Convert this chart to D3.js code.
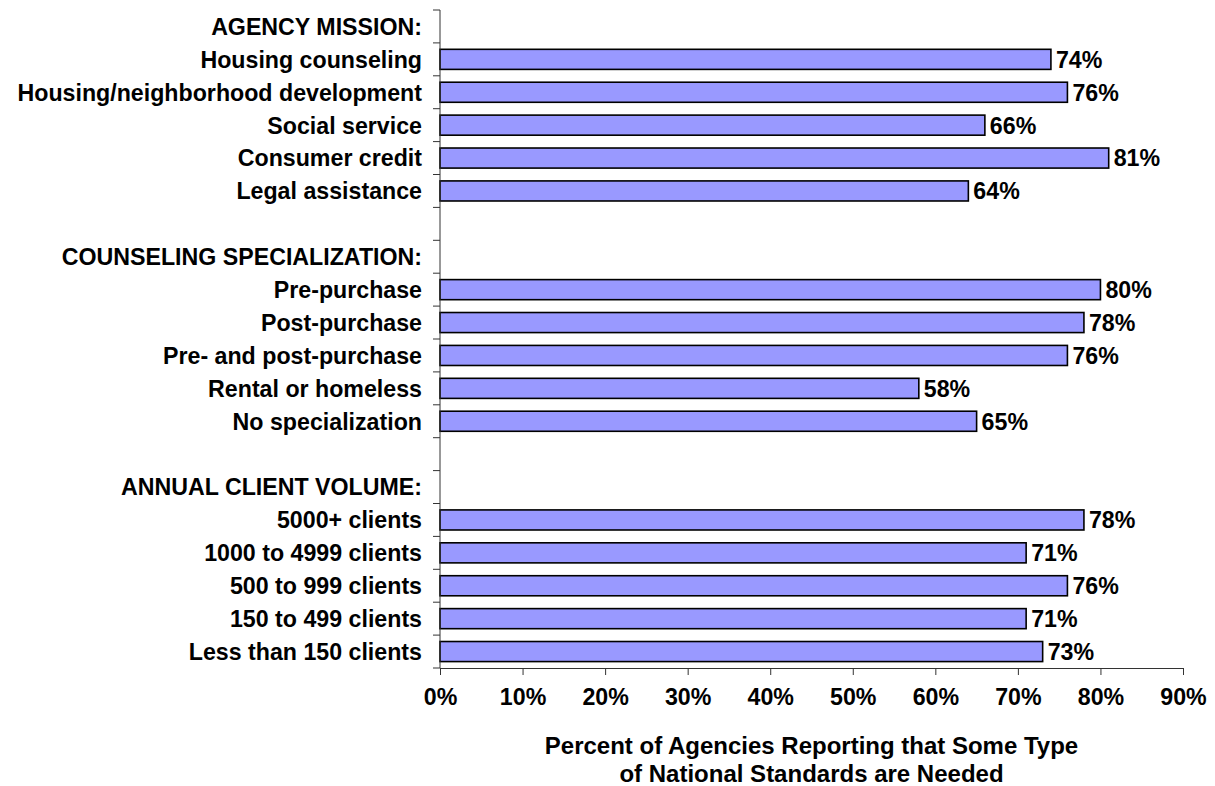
<!DOCTYPE html>
<html>
<head>
<meta charset="utf-8">
<script src="https://cdn.jsdelivr.net/npm/d3@7"></script>
<style>
  html, body { margin: 0; padding: 0; background: #fff; }
  svg text { font-family: "Liberation Sans", Arial, sans-serif; font-weight: bold; fill: #000; }
</style>
</head>
<body>
<svg id="chart" width="1215" height="786"></svg>
<script>
// Row labels, top to bottom; group headings and spacer rows have no value
const categories = [
  "AGENCY MISSION:",
  "Housing counseling",
  "Housing/neighborhood development",
  "Social service",
  "Consumer credit",
  "Legal assistance",
  "",
  "COUNSELING SPECIALIZATION:",
  "Pre-purchase",
  "Post-purchase",
  "Pre- and post-purchase",
  "Rental or homeless",
  "No specialization",
  " ",
  "ANNUAL CLIENT VOLUME:",
  "5000+ clients",
  "1000 to 4999 clients",
  "500 to 999 clients",
  "150 to 499 clients",
  "Less than 150 clients"
];
const values = [
  null, 74, 76, 66, 81, 64,
  null,
  null, 80, 78, 76, 58, 65,
  null,
  null, 78, 71, 76, 71, 73
];
const xTicks = [0, 10, 20, 30, 40, 50, 60, 70, 80, 90];
const xTitle = [
  "Percent of Agencies Reporting that Some Type",
  "of National Standards are Needed"
];

const margin = { top: 10, left: 440, right: 32, bottom: 118 };
const width = 1215, height = 786;
const fontSize = 23.2;
const svg = d3.select("#chart");

const x = d3.scaleLinear()
  .domain([0, 90])
  .range([margin.left, width - margin.right]);

const y = d3.scaleBand()
  .domain(categories.map((c, i) => i))
  .range([margin.top, height - margin.bottom])
  .paddingInner(0.39)
  .paddingOuter(0.195);

const yBand = d3.scaleBand()
  .domain(categories.map((c, i) => i))
  .range([margin.top, height - margin.bottom]);

const rows = categories.map((c, i) => ({ label: c, value: values[i], i }));

// Bars
svg.append("g")
  .selectAll("rect")
  .data(rows.filter(d => d.value !== null))
  .join("rect")
  .attr("x", x(0))
  .attr("y", d => y(d.i))
  .attr("width", d => x(d.value) - x(0))
  .attr("height", y.bandwidth())
  .attr("fill", "#9999ff")
  .attr("stroke", "#000")
  .attr("stroke-width", 1.6);

// Value labels at bar ends
svg.append("g")
  .selectAll("text")
  .data(rows.filter(d => d.value !== null))
  .join("text")
  .attr("x", d => x(d.value) + 5)
  .attr("y", d => y(d.i) + y.bandwidth() / 2)
  .attr("dy", "0.36em")
  .attr("font-size", fontSize)
  .text(d => d.value + "%");

// Y axis: line plus a tick at every band boundary
const yAxis = svg.append("g");
const boundaries = d3.range(categories.length + 1).map(i =>
  i < categories.length ? yBand(i) : yBand(categories.length - 1) + yBand.bandwidth());
yAxis.append("line")
  .attr("x1", x(0)).attr("x2", x(0))
  .attr("y1", boundaries[0]).attr("y2", boundaries[boundaries.length - 1])
  .attr("stroke", "#333").attr("stroke-width", 1);
yAxis.selectAll("line.tick")
  .data(boundaries)
  .join("line")
  .attr("class", "tick")
  .attr("x1", x(0) - 7).attr("x2", x(0))
  .attr("y1", d => d).attr("y2", d => d)
  .attr("stroke", "#333").attr("stroke-width", 1);
yAxis.selectAll("text")
  .data(rows.filter(d => d.label.trim() !== ""))
  .join("text")
  .attr("x", x(0) - 18)
  .attr("y", d => yBand(d.i) + yBand.bandwidth() / 2)
  .attr("dy", "0.36em")
  .attr("text-anchor", "end")
  .attr("font-size", fontSize)
  .text(d => d.label);

// X axis
const axisY = boundaries[boundaries.length - 1];
const xAxis = svg.append("g")
  .attr("transform", `translate(0,${axisY})`)
  .call(d3.axisBottom(x).tickValues(xTicks).tickSize(7).tickSizeOuter(0)
    .tickFormat(d => d + "%"));
xAxis.select(".domain").attr("stroke", "#333");
xAxis.selectAll(".tick line").attr("stroke", "#333");
xAxis.selectAll(".tick text")
  .attr("font-size", fontSize)
  .attr("font-family", "Liberation Sans, Arial, sans-serif")
  .attr("font-weight", "bold")
  .attr("fill", "#000")
  .attr("y", 21);

// Axis title
const cx = (x.range()[0] + x.range()[1]) / 2;
svg.append("g")
  .selectAll("text")
  .data(xTitle)
  .join("text")
  .attr("x", cx)
  .attr("y", (d, i) => 754 + i * 28)
  .attr("text-anchor", "middle")
  .attr("font-size", 24)
  .text(d => d);
</script>
</body>
</html>
